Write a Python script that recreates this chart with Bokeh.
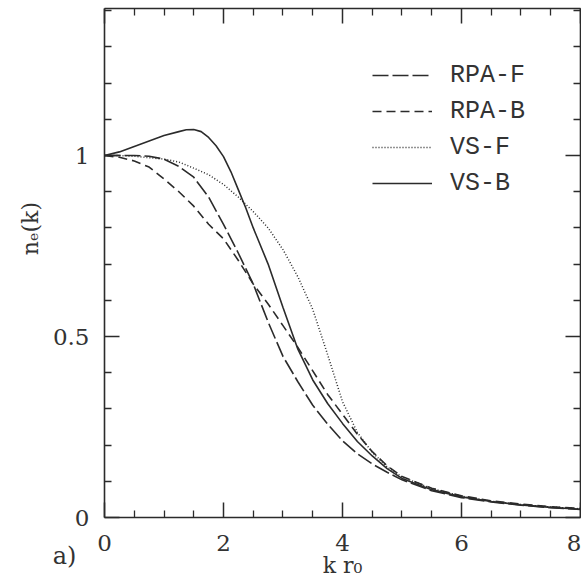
import math
from bokeh.plotting import figure
from bokeh.models import (LinearAxis, FixedTicker, Range1d, Label, Legend,
                          LegendItem)
from bokeh.embed import file_html
from bokeh.resources import INLINE

# ---- data ----
k = [0, 0.25, 0.5, 0.75, 1.0, 1.25, 1.5, 1.75, 2.0, 2.25, 2.5, 2.75, 3.0,
     3.25, 3.5, 3.75, 4.0, 4.25, 4.5, 4.75, 5.0, 5.5, 6.0, 6.5, 7.0, 7.5, 8.0]
rpa_f = [1.0, 1.0, 1.0, 0.998, 0.99, 0.97, 0.94, 0.885, 0.81, 0.73, 0.645,
         0.54, 0.445, 0.375, 0.31, 0.258, 0.212, 0.176, 0.148, 0.125, 0.104,
         0.074, 0.055, 0.043, 0.034, 0.027, 0.022]
rpa_b = [1.0, 0.995, 0.985, 0.968, 0.935, 0.9, 0.86, 0.81, 0.77, 0.71, 0.645,
         0.59, 0.53, 0.47, 0.405, 0.34, 0.285, 0.23, 0.182, 0.143, 0.113,
         0.081, 0.06, 0.046, 0.037, 0.03, 0.025]
vs_f = [1.0, 1.0, 0.998, 0.994, 0.99, 0.982, 0.965, 0.947, 0.92, 0.885, 0.845,
        0.80, 0.74, 0.665, 0.575, 0.45, 0.32, 0.235, 0.18, 0.14, 0.112, 0.08,
        0.059, 0.045, 0.036, 0.029, 0.024]
k_vsb = [0, 0.25, 0.5, 0.75, 1.0, 1.25, 1.375, 1.5, 1.625, 1.75, 1.875, 2.0,
         2.125, 2.25, 2.375, 2.5, 2.75, 3.0, 3.25, 3.5, 3.75, 4.0, 4.25, 4.5,
         4.75, 5.0, 5.5, 6.0, 6.5, 7.0, 7.5, 8.0]
vs_b = [1.0, 1.01, 1.025, 1.04, 1.055, 1.066, 1.071, 1.072, 1.066, 1.05,
        1.027, 0.997, 0.955, 0.905, 0.855, 0.80, 0.70, 0.58, 0.465, 0.38,
        0.315, 0.26, 0.21, 0.17, 0.135, 0.108, 0.077, 0.057, 0.044, 0.035,
        0.028, 0.023]

x_ticks = [0, 2, 4, 6, 8]
x_minor = [0.5, 1, 1.5, 2.5, 3, 3.5, 4.5, 5, 5.5, 6.5, 7, 7.5]
y_ticks = [0, 0.5, 1]
y_labels = {0: "0", 0.5: "0.5", 1: "1"}
y_minor = [0.1, 0.2, 0.3, 0.4, 0.6, 0.7, 0.8, 0.9, 1.1, 1.2, 1.3, 1.4]

X_MIN, X_MAX = 0, 8
Y_MIN, Y_MAX = 0, 1.405

INK = "#2b2b2b"
TXT = "#333333"
SERIF = "DejaVu Serif"

# the frame covers the whole canvas; the box axes sit at fixed locations
p = figure(width=581, height=583, x_range=Range1d(-1.748, 8.017),
           y_range=Range1d(-0.1823, 1.4282), output_backend="svg",
           toolbar_location=None, min_border=0)
p.xgrid.visible = False
p.ygrid.visible = False
p.outline_line_color = None
p.background_fill_color = "white"
p.border_fill_color = "white"


def style_axis(ax, show_labels):
    ax.axis_line_color = INK
    ax.axis_line_width = 1.6
    ax.major_tick_line_color = INK
    ax.minor_tick_line_color = INK
    ax.major_tick_line_width = 1.5
    ax.minor_tick_line_width = 1.3
    ax.major_tick_in = 15
    ax.major_tick_out = 0
    ax.minor_tick_in = 7
    ax.minor_tick_out = 0
    if show_labels:
        ax.major_label_text_font = SERIF
        ax.major_label_text_font_size = "23px"
        ax.major_label_text_color = TXT


xt = FixedTicker(ticks=x_ticks, minor_ticks=x_minor)
yt = FixedTicker(ticks=y_ticks, minor_ticks=y_minor)

xa = p.xaxis[0]
ya = p.yaxis[0]
xa.ticker = xt
ya.ticker = yt
xa.fixed_location = Y_MIN
ya.fixed_location = X_MIN
xa.bounds = (X_MIN, X_MAX)
ya.bounds = (Y_MIN, Y_MAX)
ya.major_label_overrides = y_labels
style_axis(xa, True)
style_axis(ya, True)
xa.major_label_standoff = 17
ya.major_label_standoff = 15

top = LinearAxis(ticker=xt, fixed_location=Y_MAX, bounds=(X_MIN, X_MAX),
                 major_label_overrides={t: "" for t in x_ticks})
right = LinearAxis(ticker=yt, fixed_location=X_MAX, bounds=(Y_MIN, Y_MAX),
                   major_label_overrides={t: "" for t in y_ticks})
style_axis(top, False)
style_axis(right, False)
p.add_layout(top, "above")
p.add_layout(right, "right")

r1 = p.line(k, rpa_f, line_color=INK, line_width=1.6, line_dash="16 4")
r2 = p.line(k, rpa_b, line_color=INK, line_width=1.6, line_dash="9 5")
r3 = p.line(k, vs_f, line_color=INK, line_width=1.5, line_dash="1 2")
r4 = p.line(k_vsb, vs_b, line_color=INK, line_width=1.6)

legend = Legend(items=[LegendItem(label="RPA-F", renderers=[r1]),
                       LegendItem(label="RPA-B", renderers=[r2]),
                       LegendItem(label="VS-F", renderers=[r3]),
                       LegendItem(label="VS-B", renderers=[r4])],
                location=(372, 382), glyph_width=60, glyph_height=36,
                label_height=36, label_standoff=18, spacing=0, padding=0,
                margin=0, border_line_alpha=0, background_fill_alpha=0,
                label_text_font="Liberation Mono",
                label_text_font_size="25px", label_text_color=TXT)
p.add_layout(legend)

p.add_layout(Label(x=-1.244, y=0.798, text="nₑ(k)", angle=math.pi / 2,
                   text_align="center", text_baseline="middle",
                   text_font=SERIF, text_font_size="22px", text_color=TXT))
p.add_layout(Label(x=4.0, y=-0.1326, text="k r₀", text_align="center",
                   text_baseline="middle", text_font=SERIF,
                   text_font_size="22px", text_color=TXT))
p.add_layout(Label(x=-0.672, y=-0.1077, text="a)", text_align="center",
                   text_baseline="middle", text_font=SERIF,
                   text_font_size="24px", text_color=TXT))

open("out.html", "w").write(file_html(p, INLINE))
